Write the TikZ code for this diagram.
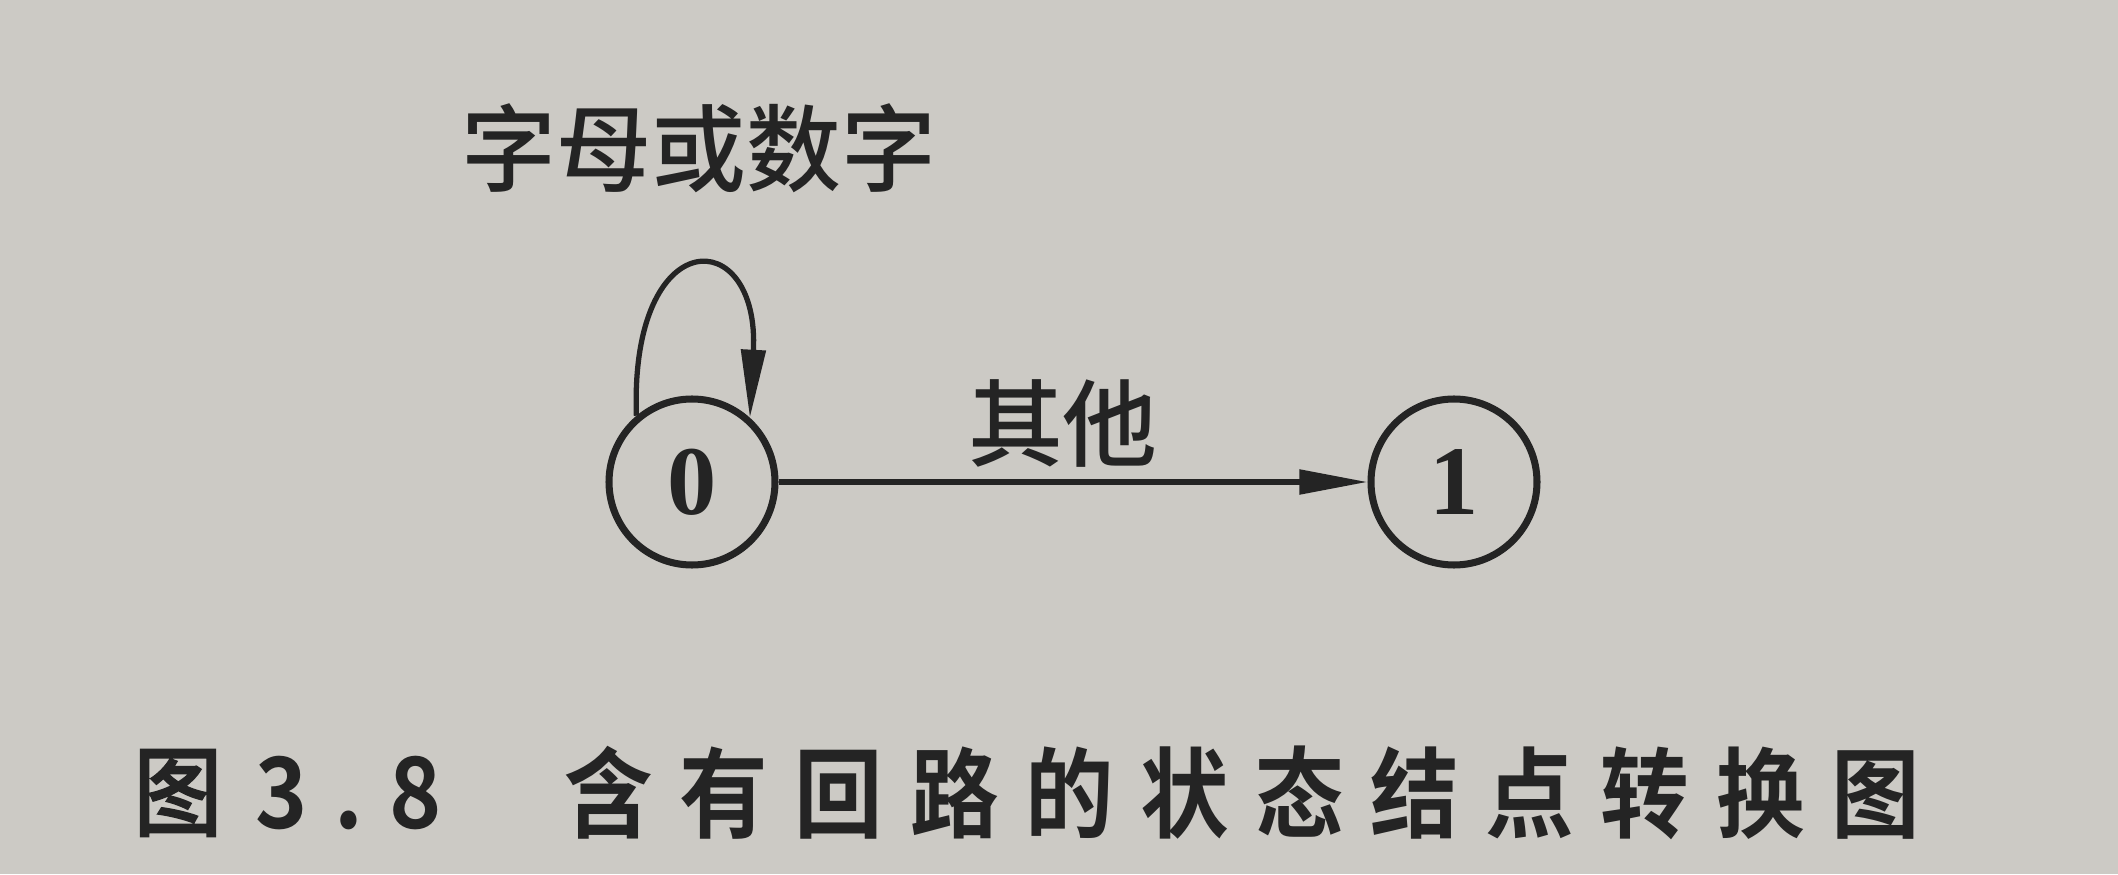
\documentclass[tikz,border=0pt]{standalone}
\usepackage{fontspec}
\usepackage{tikz}
\usetikzlibrary{arrows.meta, positioning}
\setmainfont{Liberation Serif}
\newfontfamily\cjk{Noto Sans CJK SC Medium}
\newfontfamily\cjkcap{Noto Sans CJK SC Bold}[LetterSpace=27, FakeStretch=0.9]
\definecolor{paper}{RGB}{204,202,197}
\definecolor{ink}{RGB}{36,36,36}

\begin{document}
\begin{tikzpicture}[
  state/.style={circle, draw=ink, line width=2pt, minimum size=1.66cm,
                inner sep=0pt, text=ink, font=\bfseries\fontsize{28}{30}\selectfont},
  arr/.style={-{Triangle[length=0.68cm, width=0.24cm]}, ink, line width=1.5pt},
  lab/.style={text=ink, inner sep=0pt, font=\cjk\fontsize{27}{30}\selectfont},
  captxt/.style={text=ink, inner sep=0pt, anchor=west},
]
  \fill[paper] (0,0) rectangle (21.18,8.74);
  \useasboundingbox (0,0) rectangle (21.18,8.74);

  \node[state] (s0) at (6.92,3.92) {0};
  \node[state] (s1) at (14.54,3.92) {1};

  \draw[arr] (s0) -- node[lab, above=0.12cm, pos=0.483] (l1) {其他} (s1);
  \draw[arr] (s0.130) .. controls +(92:1.95) and +(87:1.95) .. (s0.48);
  \node[lab] (l0) at (6.99,7.26) {字母或数字};

  % caption
  \node[captxt, font=\cjk\fontsize{28}{30}\selectfont] (c1) at (1.33,0.81) {\addfontfeature{FakeBold=1.5, FakeStretch=0.9}图};
  \node[captxt, font=\cjkcap\fontsize{28}{30}\selectfont] (c2) at (2.55,0.81) {3.8};
  \node[captxt, font=\cjkcap\fontsize{28}{30}\selectfont] (c3) at (5.64,0.81) {含有回路的状态结点转换图};
\end{tikzpicture}
\end{document}
